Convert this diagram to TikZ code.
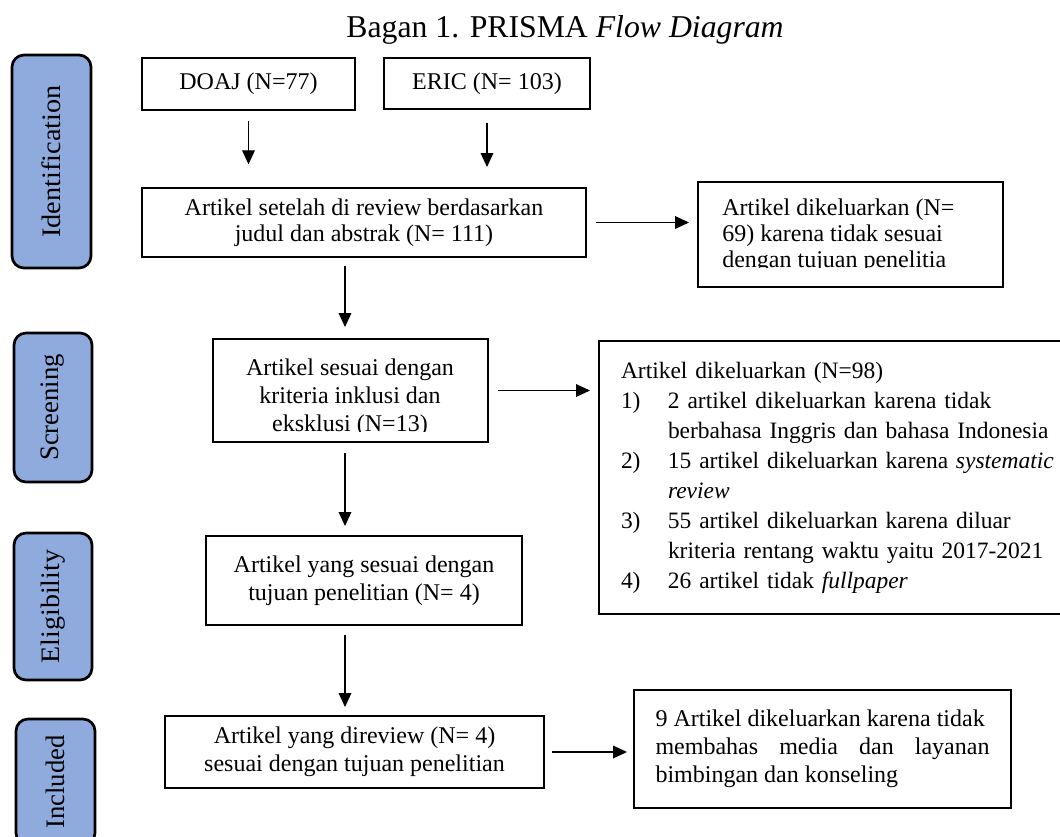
\documentclass[tikz,border=0pt]{standalone}
\usepackage{fontspec}
\usepackage{graphicx}
\setmainfont{Liberation Serif}
\usetikzlibrary{arrows.meta}
\definecolor{lblue}{HTML}{8FAADC}
\newcommand\itm[1]{\makebox[35.25pt][l]{#1}}
\begin{document}
\begin{tikzpicture}[x=0.75pt,y=-0.75pt,
  box/.style={draw, line width=1.5pt, inner sep=0pt},
  lbl/.style={draw, line width=2pt, fill=lblue, rounded corners=9pt, inner sep=0pt, font=\fontsize{20}{24}\selectfont},
  arr/.style={-{Triangle[length=10.5pt,width=9.5pt]}, line width=0.9pt},
  txt/.style={font=\fontsize{18}{19.5}\selectfont, align=center},
  txtb/.style={font=\fontsize{18}{21}\selectfont, align=center},
]
\clip (0,0) rectangle (1060,836);

% title
\node[anchor=base, inner sep=0pt, font=\fontsize{23.8}{28}\selectfont] (title) at (565,37) {Bagan 1. PRISMA \textit{Flow Diagram}};

% phase labels
\node[lbl, minimum width=59.25pt, minimum height=159.75pt] (lid) at (51.5,161.5) {\rotatebox{90}{\scalebox{1.06}[1]{Identification}}};
\node[lbl, minimum width=58.5pt, minimum height=111.75pt] (lsc) at (53,407.5) {\rotatebox{90}{Screening}};
\node[lbl, minimum width=58.5pt, minimum height=110.25pt] (lel) at (53,606.5) {\rotatebox{90}{\scalebox{1.05}[1]{Eligibility}}};
\node[lbl, minimum width=59.25pt, minimum height=94.5pt] (lin) at (55.5,782) {\rotatebox{90}{Included}};

% boxes
\node[box, txt, minimum width=159.75pt, minimum height=39pt] (doaj) at (248.5,84) {DOAJ (N=77)};
\node[box, txt, minimum width=154.5pt, minimum height=38.25pt] (eric) at (487,83.5) {ERIC (N= 103)};
\node[box, txt, minimum width=333pt, minimum height=51.75pt] (rev) at (364,222.5) {Artikel setelah di review berdasarkan\\judul dan abstrak (N= 111)};

\node[box, minimum width=228.75pt, minimum height=78.75pt] (ex1) at (850.5,234.5) {};
\begin{scope}
  \clip (698,182) rectangle (1003,267);
  \node[anchor=north west, inner sep=0pt, align=left, font=\fontsize{18}{19.3}\selectfont] (ex1t) at (722,199) {Artikel dikeluarkan (N=\\69) karena tidak sesuai\\dengan tujuan penelitia};
\end{scope}

\node[box, minimum width=206.25pt, minimum height=77.25pt] (scr) at (350.5,390.5) {};
\begin{scope}
  \clip (213,339) rectangle (488,431);
  \node[anchor=north, inner sep=0pt, txtb] (scrt) at (350,359) {Artikel sesuai dengan\\kriteria inklusi dan\\eksklusi (N=13)};
\end{scope}

\node[box, anchor=north west, minimum width=380pt, minimum height=204.75pt, text width=347pt, inner xsep=16.5pt, inner ysep=0pt, align=left, font=\fontsize{17.6}{22.5}\selectfont] (ex2) at (598,340) {Artikel dikeluarkan (N=98)\\
\itm{1)}2 artikel dikeluarkan karena tidak\\
\itm{}berbahasa Inggris dan bahasa Indonesia\\
\itm{2)}15 artikel dikeluarkan karena \textit{systematic}\\
\itm{}\textit{review}\\
\itm{3)}55 artikel dikeluarkan karena diluar\\
\itm{}kriteria rentang waktu yaitu 2017-2021\\
\itm{4)}26 artikel tidak \textit{fullpaper}};

\node[box, txtb, minimum width=237pt, minimum height=66.75pt] (elig) at (364,580.5) {Artikel yang sesuai dengan\\tujuan penelitian (N= 4)};
\node[box, txtb, minimum width=284.25pt, minimum height=54pt] (inc) at (354.5,752) {Artikel yang direview (N= 4)\\sesuai dengan tujuan penelitian};
\node[box, minimum width=282.75pt, minimum height=88.5pt, align=left, font=\fontsize{18}{21}\selectfont] (ex3) at (822.5,749) {9 Artikel dikeluarkan karena tidak\\
\makebox[250.5pt][s]{membahas media dan layanan}\\
bimbingan dan konseling};

% connectors
\coordinate (mx) at (345,0);
\draw[arr, shorten <=7.5pt, shorten >=17pt] (doaj.south) -- (doaj.south |- rev.north);
\draw[arr, shorten <=9.5pt, shorten >=15pt] (eric.south) -- (eric.south |- rev.north);
\draw[arr, shorten <=6.75pt, shorten >=6pt] (rev.east) -- (rev.east -| ex1.west);
\draw[arr, shorten <=6pt, shorten >=8.25pt] (rev.south -| mx) -- (scr.north -| mx);
\draw[arr, shorten <=6.75pt, shorten >=6pt] (scr.east) -- (scr.east -| ex2.west);
\draw[arr, shorten <=7.5pt, shorten >=6.75pt] (scr.south -| mx) -- (elig.north -| mx);
\draw[arr, shorten <=6.75pt, shorten >=6pt] (elig.south -| mx) -- (inc.north -| mx);
\draw[arr, shorten <=5.25pt, shorten >=4.5pt] (inc.east) -- (inc.east -| ex3.west);
\end{tikzpicture}
\end{document}
